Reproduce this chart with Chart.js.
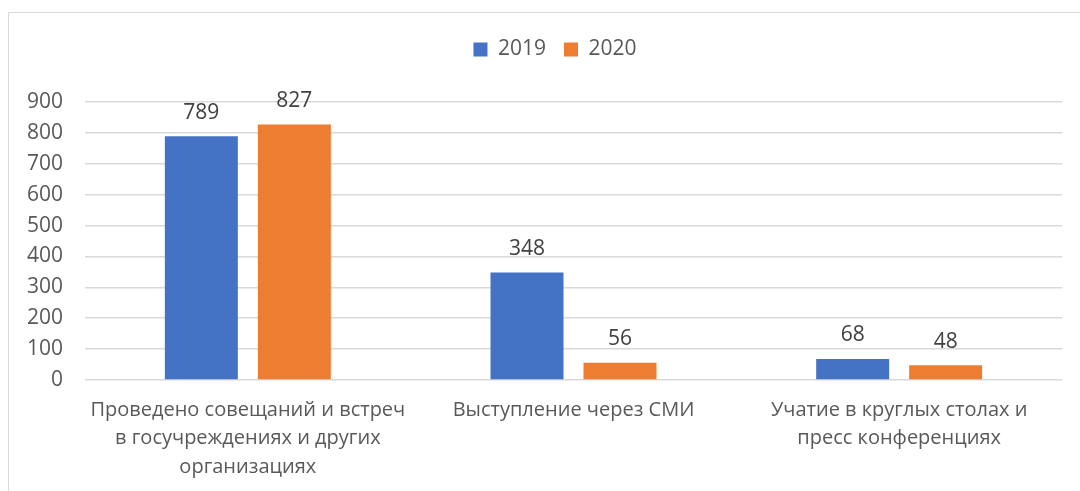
<!DOCTYPE html>
<html lang="ru">
<head>
    <meta charset="UTF-8">
    <script src="https://cdn.jsdelivr.net/npm/chart.js"></script>
    <title>Мероприятия 2019-2020</title>
    <style>
        body { margin: 0; background: #fff; }
        .ramka { position: absolute; left: 8px; top: 12px; right: 0; bottom: 0; border-left: 1px solid #d9d9d9; border-top: 1px solid #d9d9d9; }
        .holst { position: absolute; left: 0; top: 0; width: 1080px; height: 491px; }
    </style>
</head>
<body>
    <div class="ramka"></div>
    <div class="holst">
        <canvas id="grafico"></canvas>
    </div>

<script>
    const categorias = [
        ['Проведено совещаний и встреч', 'в госучреждениях и других', 'организациях'],
        'Выступление через СМИ',
        ['Учатие в круглых столах и', 'пресс конференциях']
    ];
    const anos = ['2019', '2020'];
    const valores2019 = [789, 348, 68];
    const valores2020 = [827, 56, 48];
    const ticksY = [0, 100, 200, 300, 400, 500, 600, 700, 800, 900];

    const fonte = "'Open Sans', sans-serif";

    // rotulos de valor em cima das barras
    const rotulos = {
        id: 'rotulos',
        afterDatasetsDraw(chart) {
            const ctx = chart.ctx;
            ctx.save();
            ctx.fillStyle = '#404040';
            ctx.font = '21px ' + fonte;
            ctx.textAlign = 'center';
            ctx.textBaseline = 'bottom';
            chart.data.datasets.forEach((ds, i) => {
                chart.getDatasetMeta(i).data.forEach((bar, j) => {
                    ctx.fillText(ds.data[j], bar.x, bar.y - 13);
                });
            });
            ctx.restore();
        }
    };

    // legenda: altura fixa e um pouco deslocada, como no original
    const ajusteLegenda = {
        id: 'ajusteLegenda',
        beforeInit(chart) {
            const leg = chart.legend;
            const fitOrig = leg.fit;
            leg.fit = function () {
                fitOrig.bind(leg)();
                this.height = 73;
            };
            const drawOrig = leg.draw;
            leg.draw = function () {
                const ctx = chart.ctx;
                ctx.save();
                ctx.translate(24, -8);
                drawOrig.bind(leg)();
                ctx.restore();
            };
        }
    };

    const config = {
        type: 'bar',
        data: {
            labels: categorias,
            datasets: [{
                label: anos[0],
                backgroundColor: '#4472C4',
                data: valores2019,
                categoryPercentage: 0.571,
                barPercentage: 0.785
            },
            {
                label: anos[1],
                backgroundColor: '#ED7D31',
                data: valores2020,
                categoryPercentage: 0.571,
                barPercentage: 0.785
            }]
        },
        options: {
            responsive: true,
            maintainAspectRatio: false,
            animation: false,
            layout: { padding: { left: 0, right: 18, top: 29, bottom: 0 } },
            plugins: {
                tooltip: { enabled: false },
                legend: {
                    position: 'top',
                    labels: {
                        color: '#595959',
                        font: { family: fonte, size: 21 },
                        boxWidth: 14,
                        boxHeight: 14,
                        padding: 18
                    }
                }
            },
            scales: {
                x: {
                    grid: { display: false, drawTicks: false },
                    border: { display: false },
                    ticks: {
                        color: '#595959',
                        font: { family: fonte, size: 20, lineHeight: 1.42 },
                        padding: 16,
                        maxRotation: 0,
                        autoSkip: false
                    },
                    afterFit(scale) { scale.height = 111; }
                },
                y: {
                    min: 0,
                    max: 900,
                    afterBuildTicks(scale) { scale.ticks = ticksY.map(v => ({ value: v })); },
                    grid: { color: '#d9d9d9', lineWidth: 1.5, drawTicks: false },
                    border: { display: false },
                    ticks: {
                        color: '#595959',
                        font: { family: fonte, size: 21 },
                        padding: 22
                    },
                    afterFit(scale) { scale.width = 85; }
                }
            }
        },
        plugins: [rotulos, ajusteLegenda]
    };

    const grafico = new Chart(document.getElementById('grafico'), config);
</script>
</body>
</html>
